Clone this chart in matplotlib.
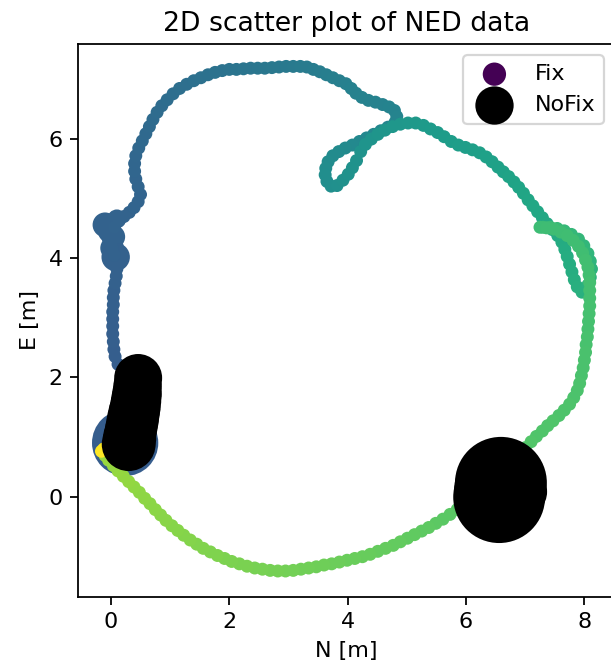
import numpy as np
import matplotlib
matplotlib.use("Agg")
import matplotlib.pyplot as plt

# ---------------------------------------------------------------------------
# Fix track: north / east position [m] and normalised time (colour)
# ---------------------------------------------------------------------------
track_n = [
    # start
    0.34, 0.36, 0.38, 0.40, 0.42, 0.44, 0.45, 0.40, 0.30, 0.20, 0.12,
    # west side, heading north
    0.07, 0.05, 0.04, 0.03, 0.03, 0.03, 0.03, 0.04, 0.04, 0.05,
    0.07, 0.09, 0.10, 0.10, 0.06, 0.02, 0.02, 0.03, 0.06, 0.13,
    0.22, 0.31, 0.39, 0.46, 0.50,
    # upper arc
    0.46, 0.42, 0.40, 0.40, 0.42, 0.47, 0.53, 0.59, 0.65, 0.71,
    0.78, 0.86, 0.95, 1.05, 1.16, 1.28, 1.40, 1.52, 1.64, 1.76,
    1.88, 2.00, 2.12, 2.24, 2.36, 2.48, 2.60, 2.72, 2.84, 2.96,
    3.08, 3.20, 3.31, 3.42, 3.53, 3.64, 3.75, 3.86, 3.97, 4.06,
    4.14, 4.24, 4.35, 4.47, 4.59, 4.70, 4.79, 4.83, 4.80,
    # small loop
    4.68, 4.56, 4.44, 4.32, 4.20, 4.08, 3.96, 3.85, 3.75, 3.67,
    3.63, 3.62, 3.65, 3.72, 3.82, 3.92, 4.01, 4.08, 4.15, 4.22,
    4.30, 4.40, 4.51, 4.63, 4.76, 4.89, 5.02,
    # north-east arc
    5.15, 5.28, 5.40, 5.52, 5.63, 5.75, 5.87, 5.99, 6.11, 6.23,
    6.34, 6.44, 6.54, 6.63, 6.72, 6.81, 6.89, 6.97, 7.05, 7.13,
    7.21, 7.29, 7.37, 7.46,
    # east loop
    7.55, 7.62, 7.67, 7.71, 7.75, 7.79, 7.83, 7.88, 7.96, 8.06,
    8.10, 8.12, 8.10, 8.06, 7.99, 7.90, 7.78, 7.66, 7.54, 7.42,
    7.30, 7.25,
    # east side, heading south
    7.36, 7.48, 7.60, 7.71, 7.81, 7.90, 7.97, 8.02, 8.06, 8.08,
    8.09, 8.09, 8.09, 8.09, 8.08, 8.07, 8.06, 8.05, 8.03, 8.02,
    8.00, 7.98, 7.95, 7.92, 7.88, 7.82, 7.75, 7.66, 7.57, 7.47,
    7.38, 7.29, 7.19, 7.10, 7.00, 6.90, 6.80, 6.70, 6.60, 6.50,
    6.40, 6.30, 6.20, 6.09, 5.97, 5.85, 5.73, 5.61,
    # southern arc back to the start
    5.49, 5.37, 5.25, 5.13, 5.01, 4.89, 4.77, 4.64, 4.51, 4.38,
    4.25, 4.12, 3.99, 3.86, 3.73, 3.60, 3.47, 3.34, 3.21, 3.08,
    2.95, 2.82, 2.69, 2.56, 2.43, 2.30, 2.17, 2.04, 1.92, 1.80,
    1.68, 1.56, 1.45, 1.34, 1.23, 1.13, 1.03, 0.93, 0.84, 0.75,
    0.66, 0.57, 0.48, 0.39, 0.30, 0.21, 0.12, 0.04, -0.04, -0.10,
    # end
    -0.12, -0.16,
]
track_e = [
    1.00, 1.15, 1.30, 1.45, 1.60, 1.75, 1.90, 2.00, 2.05, 2.12, 2.22,
    2.35, 2.47, 2.60, 2.73, 2.86, 2.98, 3.10, 3.22, 3.34, 3.46,
    3.58, 3.70, 3.82, 3.93, 4.05, 4.17, 4.29, 4.41, 4.52, 4.63,
    4.70, 4.77, 4.85, 4.95, 5.07,
    5.20, 5.33, 5.46, 5.59, 5.72, 5.85, 5.97, 6.09, 6.21, 6.33,
    6.45, 6.56, 6.66, 6.76, 6.85, 6.92, 6.98, 7.03, 7.08, 7.12,
    7.15, 7.17, 7.17, 7.18, 7.19, 7.19, 7.19, 7.20, 7.21, 7.22,
    7.22, 7.22, 7.21, 7.17, 7.13, 7.08, 7.03, 6.98, 6.93, 6.85,
    6.77, 6.70, 6.65, 6.62, 6.58, 6.54, 6.48, 6.38, 6.28,
    6.20, 6.14, 6.08, 6.02, 5.96, 5.90, 5.85, 5.79, 5.72, 5.62,
    5.51, 5.40, 5.29, 5.21, 5.22, 5.31, 5.41, 5.52, 5.64, 5.79,
    5.91, 6.00, 6.08, 6.15, 6.21, 6.25, 6.27,
    6.27, 6.23, 6.17, 6.11, 6.04, 5.96, 5.90, 5.86, 5.82, 5.77,
    5.70, 5.62, 5.53, 5.45, 5.37, 5.28, 5.19, 5.09, 4.98, 4.88,
    4.78, 4.68, 4.58, 4.48,
    4.38, 4.27, 4.15, 4.03, 3.90, 3.77, 3.64, 3.52, 3.43, 3.55,
    3.68, 3.82, 3.95, 4.08, 4.21, 4.32, 4.40, 4.46, 4.50, 4.52,
    4.52, 4.52,
    4.51, 4.49, 4.44, 4.38, 4.30, 4.20, 4.09, 3.97, 3.85, 3.72,
    3.59, 3.46, 3.33, 3.20, 3.07, 2.94, 2.81, 2.68, 2.55, 2.42,
    2.29, 2.16, 2.03, 1.90, 1.78, 1.66, 1.55, 1.45, 1.36, 1.27,
    1.19, 1.10, 1.01, 0.92, 0.82, 0.72, 0.62, 0.52, 0.42, 0.32,
    0.22, 0.12, 0.03, -0.06, -0.14, -0.22, -0.30, -0.38,
    -0.45, -0.52, -0.58, -0.64, -0.70, -0.76, -0.82, -0.87, -0.92, -0.97,
    -1.01, -1.04, -1.07, -1.10, -1.13, -1.15, -1.18, -1.20, -1.22, -1.24,
    -1.25, -1.25, -1.24, -1.22, -1.20, -1.17, -1.13, -1.09, -1.04, -0.99,
    -0.93, -0.87, -0.80, -0.73, -0.65, -0.57, -0.49, -0.40, -0.31, -0.22,
    -0.12, -0.03, 0.07, 0.16, 0.25, 0.34, 0.43, 0.52, 0.61, 0.69,
    0.80, 0.76,
]
track_t = [
    0.000, 0.030, 0.060, 0.090, 0.120, 0.150, 0.180, 0.210, 0.240, 0.270, 0.290,
    0.295, 0.296, 0.297, 0.298, 0.299, 0.300, 0.301, 0.302, 0.303, 0.304,
    0.305, 0.306, 0.307, 0.308, 0.309, 0.310, 0.311, 0.312, 0.313, 0.314,
    0.315, 0.316, 0.317, 0.318, 0.320,
    0.322, 0.324, 0.326, 0.328, 0.330, 0.333, 0.336, 0.339, 0.342, 0.345,
    0.348, 0.351, 0.354, 0.357, 0.360, 0.363, 0.366, 0.369, 0.372, 0.375,
    0.378, 0.381, 0.384, 0.387, 0.390, 0.393, 0.396, 0.399, 0.402, 0.405,
    0.408, 0.411, 0.414, 0.417, 0.420, 0.423, 0.426, 0.429, 0.432, 0.435,
    0.437, 0.439, 0.441, 0.443, 0.445, 0.447, 0.449, 0.451, 0.453,
    0.456, 0.459, 0.462, 0.465, 0.468, 0.471, 0.474, 0.477, 0.480, 0.483,
    0.486, 0.489, 0.492, 0.495, 0.498, 0.501, 0.504, 0.507, 0.510, 0.513,
    0.516, 0.519, 0.522, 0.525, 0.528, 0.531, 0.534,
    0.537, 0.540, 0.543, 0.546, 0.549, 0.552, 0.555, 0.558, 0.561, 0.564,
    0.567, 0.570, 0.573, 0.576, 0.579, 0.582, 0.585, 0.588, 0.591, 0.594,
    0.597, 0.600, 0.603, 0.606,
    0.609, 0.612, 0.615, 0.618, 0.621, 0.624, 0.627, 0.630, 0.634, 0.638,
    0.642, 0.646, 0.650, 0.654, 0.658, 0.662, 0.666, 0.670, 0.674, 0.678,
    0.682, 0.685,
    0.688, 0.689, 0.690, 0.692, 0.693, 0.694, 0.695, 0.696, 0.698, 0.699,
    0.700, 0.701, 0.702, 0.704, 0.705, 0.706, 0.707, 0.708, 0.710, 0.711,
    0.712, 0.713, 0.714, 0.716, 0.717, 0.718, 0.719, 0.720, 0.722, 0.723,
    0.724, 0.725, 0.726, 0.728, 0.729, 0.730, 0.731, 0.732, 0.734, 0.735,
    0.736, 0.737, 0.738, 0.740, 0.741, 0.742, 0.743, 0.744,
    0.748, 0.750, 0.752, 0.754, 0.756, 0.758, 0.760, 0.762, 0.764, 0.766,
    0.768, 0.770, 0.772, 0.774, 0.776, 0.778, 0.780, 0.782, 0.784, 0.786,
    0.788, 0.790, 0.792, 0.794, 0.796, 0.798, 0.800, 0.802, 0.804, 0.806,
    0.808, 0.810, 0.812, 0.814, 0.816, 0.818, 0.820, 0.822, 0.824, 0.826,
    0.828, 0.830, 0.832, 0.834, 0.836, 0.838, 0.840, 0.842, 0.844, 0.846,
    1.000, 1.000,
]

# Fix epochs with a wide position uncertainty (radius in m)
wide_n = [0.24, -0.10, 0.10, 0.04, 0.02, 0.08, -0.03]
wide_e = [0.90, 4.56, 4.66, 4.36, 4.17, 4.02, 4.45]
wide_t = [0.290, 0.312, 0.314, 0.311, 0.310, 0.308, 0.312]
wide_r = [0.56, 0.21, 0.16, 0.20, 0.20, 0.24, 0.19]

# NoFix epochs (radius in m)
nofix_n = [0.30, 0.315, 0.33, 0.35, 0.37, 0.39, 0.41, 0.425, 0.44, 0.45,
           0.46, 6.59, 6.575, 6.56, 6.95]
nofix_e = [0.88, 0.98, 1.08, 1.18, 1.29, 1.40, 1.50, 1.61, 1.72, 1.85,
           1.99, 0.23, 0.11, -0.01, 0.08]
nofix_r = [0.455, 0.45, 0.44, 0.44, 0.44, 0.435, 0.43, 0.425, 0.42, 0.41,
           0.405, 0.776, 0.776, 0.776, 0.42]

DPI = 160
fig = plt.figure(figsize=(611 / DPI, 671 / DPI), dpi=DPI)
ax = fig.add_axes([0.1282, 0.1107, 0.8784, 0.8237])
ax.set_xlim(-0.551, 8.518)
ax.set_ylim(-1.682, 7.596)
ax.set_xticks([0, 2, 4, 6, 8])
ax.set_yticks([0, 2, 4, 6])


def radius_to_size(r):
    """Convert a radius in metres to a scatter marker area in pt^2."""
    x0 = ax.transData.transform((0.0, 0.0))[0]
    x1 = ax.transData.transform((1.0, 0.0))[0]
    d_pt = 2.0 * np.asarray(r) * (x1 - x0) * 72.0 / fig.dpi
    return d_pt ** 2


norm = plt.Normalize(0.0, 1.0)
ax.scatter(wide_n, wide_e, c=wide_t, cmap="viridis", norm=norm,
           s=radius_to_size(wide_r), linewidths=0)
fix = ax.scatter(track_n, track_e, c=track_t, cmap="viridis", norm=norm,
                 s=34, linewidths=0, label="Fix")
nofix = ax.scatter(nofix_n, nofix_e, color="black",
                   s=radius_to_size(nofix_r), linewidths=0, label="NoFix")

leg = ax.legend(loc="upper right")
leg.legend_handles[0].set_sizes([110])
leg.legend_handles[1].set_sizes([297])

ax.set_title("2D scatter plot of NED data")
ax.set_xlabel("N [m]")
ax.set_ylabel("E [m]")

fig.savefig("out.png", dpi=DPI)
